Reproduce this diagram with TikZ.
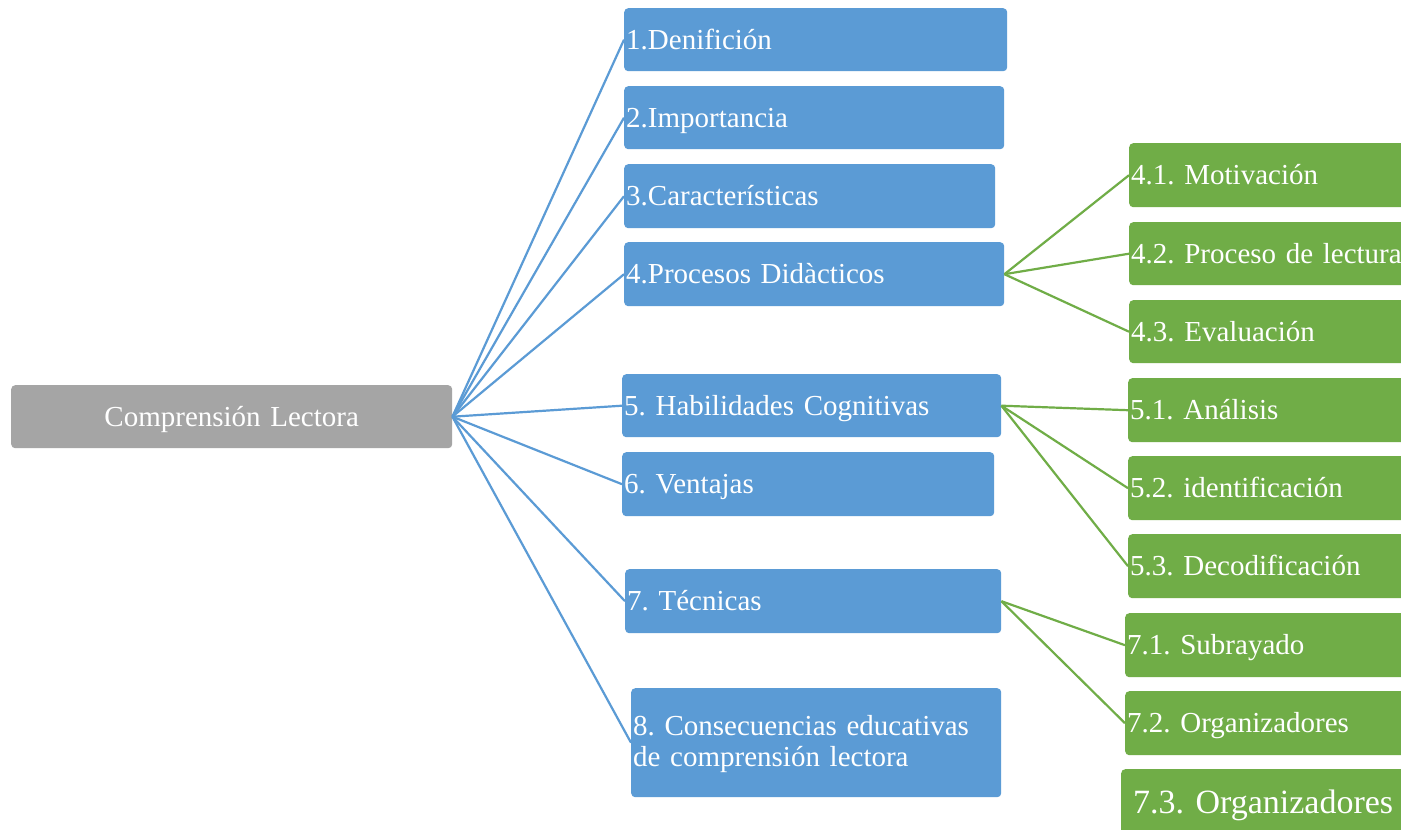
\documentclass[tikz,border=0pt]{standalone}
\usepackage{fontspec}
\setmainfont{Liberation Serif}
\definecolor{cblue}{HTML}{5B9BD5}
\definecolor{cgreen}{HTML}{70AD47}
\definecolor{cgray}{HTML}{A5A5A5}
\tikzset{
  box/.style={rectangle, rounded corners=4pt, text=white, inner xsep=2pt, inner ysep=0pt,
    align=left, font=\fontsize{29}{31}\selectfont\frenchspacing, anchor=north west,
    text height=21pt, text depth=2pt},
  bluebox/.style={box, fill=cblue},
  greenbox/.style={box, fill=cgreen},
  rootbox/.style={box, fill=cgray, align=center},
  bline/.style={draw=cblue, line width=2.2pt},
  gline/.style={draw=cgreen, line width=2.2pt},
}
\begin{document}
\begin{tikzpicture}[x=1pt, y=-1pt]
\clip (0,0) rectangle (1401,830);
\fill[white] (0,0) rectangle (1401,830);
% root
\node[rootbox, text width=437pt, minimum height=63pt] (root) at (11,385) {Comprensión Lectora};
% blue boxes
\node[bluebox, text width=379pt, minimum height=63pt] (b1) at (624,8) {1.Denifición};
\node[bluebox, text width=376pt, minimum height=63pt] (b2) at (624,86) {2.Importancia};
\node[bluebox, text width=367pt, minimum height=64pt] (b3) at (624,164) {3.Características};
\node[bluebox, text width=376pt, minimum height=64pt] (b4) at (624,242) {4.Procesos Didàcticos};
\node[bluebox, text width=375pt, minimum height=63pt] (b5) at (622,374) {5. Habilidades Cognitivas};
\node[bluebox, text width=368pt, minimum height=64pt] (b6) at (622,452) {6. Ventajas};
\node[bluebox, text width=372pt, minimum height=64pt] (b7) at (625,569) {7. Técnicas};
\node[bluebox, text width=366pt, minimum height=109pt, text height=20pt, text depth=35pt] (b8) at (631,688) {8. Consecuencias educativas\\de comprensión lectora};
% green boxes
\node[greenbox, text width=287pt, minimum height=64pt] (g41) at (1129,143) {4.1. Motivación};
\node[greenbox, text width=287pt, minimum height=63pt] (g42) at (1129,222) {4.2. Proceso de lectura};
\node[greenbox, text width=287pt, minimum height=63pt] (g43) at (1129,300) {4.3. Evaluación};
\node[greenbox, text width=288pt, minimum height=64pt] (g51) at (1128,378) {5.1. Análisis};
\node[greenbox, text width=288pt, minimum height=64pt] (g52) at (1128,456) {5.2. identificación};
\node[greenbox, text width=288pt, minimum height=64pt] (g53) at (1128,534) {5.3. Decodificación};
\node[greenbox, text width=291pt, minimum height=64pt] (g71) at (1125,613) {7.1. Subrayado};
\node[greenbox, text width=275pt, minimum height=66pt, inner xsep=12pt, text height=24pt, text depth=2pt, font=\fontsize{34}{36}\selectfont\frenchspacing] (g73) at (1121,769) {7.3. Organizadores};
\node[greenbox, text width=291pt, minimum height=64pt] (g72) at (1125,691) {7.2. Organizadores};
% blue connectors
\foreach \b in {b1,b2,b3,b4,b5,b6,b7,b8}
  \draw[bline] (root.east) -- (\b.west);
% green connectors
\foreach \g in {g41,g42,g43}
  \draw[gline] (b4.east) -- (\g.west);
\foreach \g in {g51,g52,g53}
  \draw[gline] (b5.east) -- (\g.west);
\foreach \g in {g71,g72}
  \draw[gline] (b7.east) -- (\g.west);
\end{tikzpicture}
\end{document}
